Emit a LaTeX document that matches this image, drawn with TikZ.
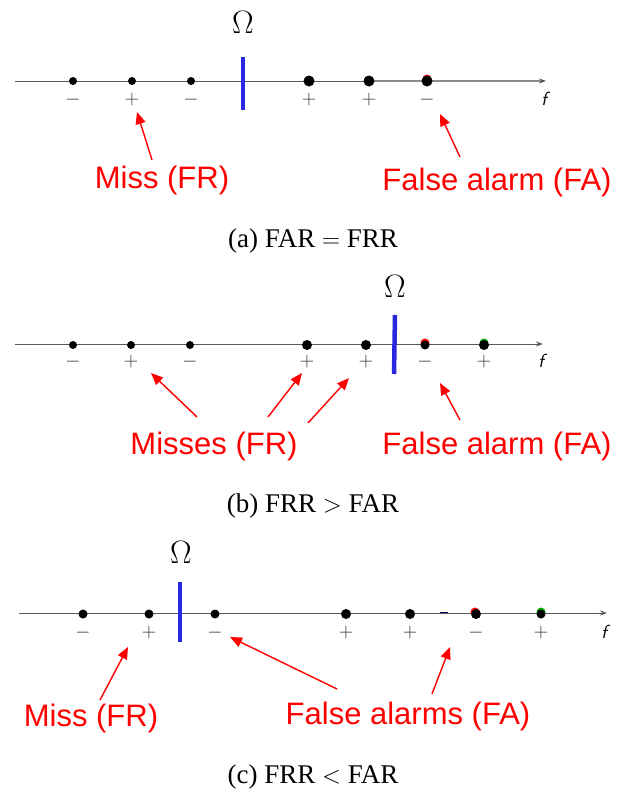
\documentclass[tikz,border=0pt]{standalone}
\usepackage{fontspec}
\setmainfont{Liberation Serif}
\newfontfamily\errfont{Liberation Sans}
\usetikzlibrary{arrows.meta,positioning}
\definecolor{thrblue}{RGB}{40,40,225}

\begin{document}
\begin{tikzpicture}[x=1pt, y=-1pt, >={Triangle[length=12pt,width=10pt]}]
        \tikzset{
            axis/.style={draw=black!65, line width=1pt, -{Stealth[length=7pt,width=5pt]}},
            thr/.style={draw=thrblue, line width=4.5pt},
            sample/.style={circle, fill=black, inner sep=0pt, minimum size=#1},
            sample/.default=8pt,
            sgn/.style={text=black!80, font=\Large, scale=1.35},
            omega/.style={font=\Huge, scale=1.3},
            feat/.style={font=\sffamily\itshape\fontsize{19}{19}\selectfont},
            errlabel/.style={text=red, font=\errfont\fontsize{31}{33}\selectfont},
            err/.style={draw=red, line width=1.4pt, ->},
            capt/.style={font=\fontsize{27}{30}\selectfont}
        }
        \useasboundingbox (0,0) rectangle (626,795);

        % (a) FAR = FRR
        \coordinate (a-start) at (15,81);
        \coordinate (a-end) at (546,81);
        \coordinate (a-thick) at (369,81);
        \draw [axis] (a-start) -- (a-end);
        \draw [black!45, line width=2.2pt] (a-thick) -- ([xshift=-5pt]a-end);
        \fill [red] (427,79) circle (4.5pt);
        \foreach \x/\s/\sz [count=\i] in {73/-/8pt, 132/+/8pt, 191/-/8pt, 309/+/11pt, 369/+/11pt, 427/-/11pt} {
            \node [sample=\sz] (a\i) at (\x,81) {};
            \node [sgn] (as\i) at (\x,100) {$\s$};
        }
        \node [feat] (af) at (544,99) {f};
        \coordinate (athr-top) at (243,57);
        \coordinate (athr-bot) at (243,110);
        \draw [thr] (athr-top) -- (athr-bot);
        \node [omega] (aomega) at (243,22) {$\Omega$};
        \node [errlabel] (amiss) at (162,180) {Miss (FR)};
        \node [errlabel] (afa) at (497,182) {False alarm (FA)};
        \coordinate (amiss-tail) at (152,160);
        \coordinate (amiss-tip) at (137,112);
        \coordinate (afa-tail) at (460,157);
        \coordinate (afa-tip) at (440,114);
        \draw [err] (amiss-tail) -- (amiss-tip);
        \draw [err] (afa-tail) -- (afa-tip);
        \node [capt] (capa) at (313,241) {(a) FAR $=$ FRR};

        % (b) FRR > FAR
        \coordinate (b-start) at (15,344);
        \coordinate (b-end) at (543,344);
        \draw [axis] (b-start) -- (b-end);
        \fill [red] (425,343) circle (4.5pt);
        \fill [green!70!black] (484,343) circle (4.5pt);
        \foreach \x/\s/\sz [count=\i] in {73/-/8pt, 131/+/8pt, 190/-/8pt, 307/+/10pt, 366/+/10pt, 425/-/9pt, 484/+/10pt} {
            \node [sample=\sz] (b\i) at (\x,345) {};
            \node [sgn] (bs\i) at (\x,362) {$\s$};
        }
        \node [feat] (bf) at (541,361) {f};
        \coordinate (bthr-top) at (395,315);
        \coordinate (bthr-bot) at (394,374);
        \draw [thr] (bthr-top) -- (bthr-bot);
        \node [omega] (bomega) at (395,286) {$\Omega$};
        \node [errlabel] (bmiss) at (214,446) {Misses (FR)};
        \node [errlabel] (bfa) at (497,446) {False alarm (FA)};
        \coordinate (bmiss1-tail) at (197,417);
        \coordinate (bmiss1-tip) at (151,373);
        \coordinate (bmiss2-tail) at (268,417);
        \coordinate (bmiss2-tip) at (302,373);
        \coordinate (bmiss3-tail) at (308,423);
        \coordinate (bmiss3-tip) at (349,378);
        \coordinate (bfa-tail) at (460,420);
        \coordinate (bfa-tip) at (440,383);
        \draw [err] (bmiss1-tail) -- (bmiss1-tip);
        \draw [err] (bmiss2-tail) -- (bmiss2-tip);
        \draw [err] (bmiss3-tail) -- (bmiss3-tip);
        \draw [err] (bfa-tail) -- (bfa-tip);
        \node [capt] (capb) at (313,506) {(b) FRR $>$ FAR};

        % (c) FRR < FAR
        \coordinate (c-start) at (19,613);
        \coordinate (c-end) at (607,613);
        \draw [axis] (c-start) -- (c-end);
        \draw [black!60!blue, line width=1.5pt] (440,612.5) -- (448,612.5);
        \fill [red] (475,612) circle (4.5pt);
        \fill [green!70!black] (541,612) circle (4.5pt);
        \foreach \x/\s/\sz [count=\i] in {83/-/9pt, 149/+/9pt, 215/-/9pt, 346/+/10pt, 410/+/10pt, 476/-/10pt, 541/+/9pt} {
            \node [sample=\sz] (c\i) at (\x,614) {};
            \node [sgn] (cs\i) at (\x,633) {$\s$};
        }
        \node [feat] (cf) at (604,632) {f};
        \coordinate (cthr-top) at (180,582);
        \coordinate (cthr-bot) at (180,642);
        \draw [thr] (cthr-top) -- (cthr-bot);
        \node [omega] (comega) at (181,552) {$\Omega$};
        \node [errlabel] (cmiss) at (91,718) {Miss (FR)};
        \node [errlabel] (cfa) at (408,716) {False alarms (FA)};
        \coordinate (cmiss-tail) at (100,700);
        \coordinate (cmiss-tip) at (128,647);
        \coordinate (cfa1-tail) at (337,689);
        \coordinate (cfa1-tip) at (230,637);
        \coordinate (cfa2-tail) at (432,694);
        \coordinate (cfa2-tip) at (450,647);
        \draw [err] (cmiss-tail) -- (cmiss-tip);
        \draw [err] (cfa1-tail) -- (cfa1-tip);
        \draw [err] (cfa2-tail) -- (cfa2-tip);
        \node [capt] (capc) at (313,777) {(c) FRR $<$ FAR};

    \end{tikzpicture}
\end{document}
